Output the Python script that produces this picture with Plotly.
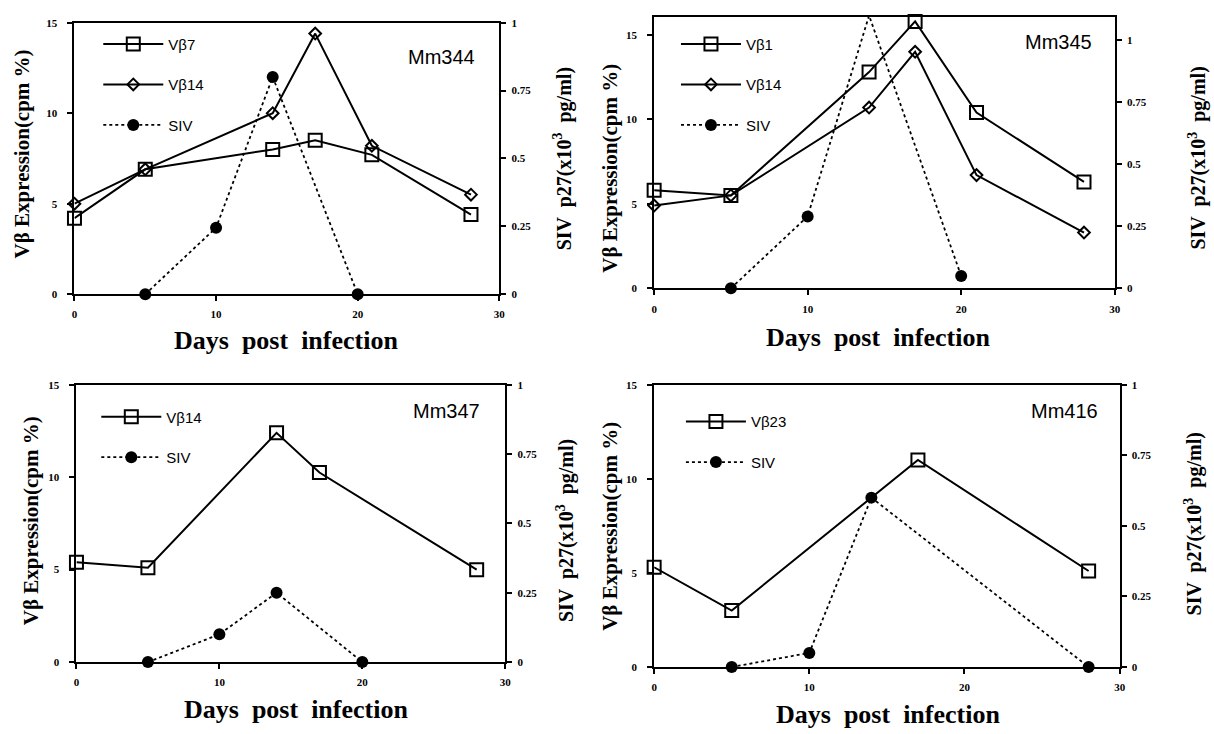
import plotly.graph_objects as go

# ---------------- data ----------------
days_344 = [0, 5, 14, 17, 21, 28]
vb7_344 = [4.2, 6.9, 8.0, 8.5, 7.7, 4.4]
vb14_344 = [5.0, 6.9, 10.0, 14.4, 8.2, 5.5]
siv_days_344 = [5, 10, 14, 20]
siv_344 = [0.0, 0.245, 0.80, 0.0]

days_345 = [0, 5, 14, 17, 21, 28]
vb1_345 = [5.8, 5.5, 12.8, 15.8, 10.4, 6.3]
vb14_345 = [4.9, 5.5, 10.7, 14.0, 6.7, 3.3]
siv_days_345 = [5, 10, 14, 20]
siv_345 = [0.0, 0.29, 1.10, 0.05]

days_347 = [0, 5, 14, 17, 28]
vb14_347 = [5.4, 5.1, 12.4, 10.25, 5.0]
siv_days_347 = [5, 10, 14, 20]
siv_347 = [0.0, 0.10, 0.25, 0.0]

days_416 = [0, 5, 17, 28]
vb23_416 = [5.3, 3.0, 11.0, 5.1]
siv_days_416 = [5, 10, 14, 28]
siv_416 = [0.0, 0.05, 0.60, 0.0]

x_ticks = [0, 10, 20, 30]
left_ticks = [0, 5, 10, 15]
right_ticks = [0, 0.25, 0.5, 0.75, 1]

W, H = 1214, 734
SERIF = "Liberation Serif"
SANS = "Liberation Sans"

def px(x):
    return x / W

def py(y):
    return 1 - y / H

fig = go.Figure()

panels = [
    dict(name="Mm344", xd=[72, 500], yd=[17, 293], yl=[0, 15], yr=[0, 1],
         series=[("Vβ7", days_344, vb7_344, "square-open", 13),
                 ("Vβ14", days_344, vb14_344, "diamond-open", 9)],
         siv=(siv_days_344, siv_344),
         leg=(96, 22), mm=(478, 52),
         lt=(19, 150), rt=(564, 155), xt=(285, 340)),
    dict(name="Mm345", xd=[656, 1120], yd=[11, 287], yl=[0, 16.07], yr=[0, 1.095],
         series=[("Vβ1", days_345, vb1_345, "square-open", 13),
                 ("Vβ14", days_345, vb14_345, "diamond-open", 9)],
         siv=(siv_days_345, siv_345),
         leg=(678, 22), mm=(1099, 37),
         lt=(612, 165), rt=(1203, 155), xt=(882, 337)),
    dict(name="Mm347", xd=[74, 506], yd=[385, 667], yl=[0, 15], yr=[0, 1],
         series=[("Vβ14", days_347, vb14_347, "square-open", 13)],
         siv=(siv_days_347, siv_347),
         leg=(94, 401), mm=(483, 412),
         lt=(29, 523), rt=(566, 533), xt=(295, 715)),
    dict(name="Mm416", xd=[656, 1125], yd=[385, 672], yl=[0, 15], yr=[0, 1],
         series=[("Vβ23", days_416, vb23_416, "square-open", 13)],
         siv=(siv_days_416, siv_416),
         leg=(683, 406), mm=(1105, 412),
         lt=(612, 529), rt=(1199, 527), xt=(892, 720)),
]

axis_common = dict(showline=True, linecolor="black", linewidth=2, ticks="outside",
                   tickcolor="black", tickwidth=1.5, ticklen=5, showgrid=False,
                   zeroline=False,
                   tickfont=dict(family=SERIF, size=11, color="black", weight="bold"))

annotations = []
layout_axes = {}
for i, p in enumerate(panels):
    xi = i + 1
    yl_i = 2 * i + 1
    yr_i = 2 * i + 2
    xname = "xaxis" if xi == 1 else f"xaxis{xi}"
    yl_name = "yaxis" if yl_i == 1 else f"yaxis{yl_i}"
    yr_name = f"yaxis{yr_i}"
    xref = "x" if xi == 1 else f"x{xi}"
    yl_ref = "y" if yl_i == 1 else f"y{yl_i}"
    yr_ref = f"y{yr_i}"
    leg_name = "legend" if i == 0 else f"legend{i + 1}"

    layout_axes[xname] = dict(axis_common, domain=[px(p["xd"][0]), px(p["xd"][1])],
                              range=[0, 30], tickvals=x_ticks, mirror=True,
                              anchor=yl_ref, ticklabelstandoff=4)
    layout_axes[yl_name] = dict(axis_common, domain=[py(p["yd"][1]), py(p["yd"][0])],
                                range=p["yl"], tickvals=left_ticks, anchor=xref,
                                ticklabelstandoff=8)
    layout_axes[yr_name] = dict(axis_common, domain=[py(p["yd"][1]), py(p["yd"][0])],
                                range=p["yr"], tickvals=right_ticks, overlaying=yl_ref,
                                side="right", anchor=xref, ticklabelstandoff=3)

    for k, (label, d, v, sym, size) in enumerate(p["series"]):
        fig.add_trace(go.Scatter(
            x=d, y=v, xaxis=xref, yaxis=yl_ref, name=label, mode="lines+markers",
            line=dict(color="black", width=2),
            marker=dict(symbol=sym, size=size, color="black", line=dict(width=2, color="black")),
            cliponaxis=False, legend=leg_name, legendgroup=f"{p['name']}_{k}"))
    sd, sv = p["siv"]
    fig.add_trace(go.Scatter(
        x=sd, y=sv, xaxis=xref, yaxis=yr_ref, name="SIV", mode="lines+markers",
        line=dict(color="black", width=1.8, dash="dot"),
        marker=dict(symbol="circle", size=12, color="black"),
        cliponaxis=False, legend=leg_name, legendgroup=f"{p['name']}_siv"))

    layout_axes[leg_name] = dict(x=px(p["leg"][0]), y=py(p["leg"][1]), xanchor="left",
                                 yanchor="top", bgcolor="rgba(0,0,0,0)",
                                 font=dict(family=SANS, size=15, color="black"),
                                 itemwidth=60, tracegroupgap=18, traceorder="grouped")

    annotations.append(dict(text=p["name"], x=px(p["mm"][0]), y=py(p["mm"][1]),
                            xref="paper", yref="paper", xanchor="right", yanchor="middle",
                            showarrow=False, font=dict(family=SANS, size=20, color="black")))
    annotations.append(dict(text="Vβ Expression(cpm %)", x=px(p["lt"][0]), y=py(p["lt"][1]),
                            xref="paper", yref="paper", xanchor="center", yanchor="middle",
                            textangle=-90, showarrow=False,
                            font=dict(family=SERIF, size=21, color="black", weight="bold")))
    annotations.append(dict(text="SIV  p27(x10<sup>3</sup>  pg/ml)", x=px(p["rt"][0]),
                            y=py(p["rt"][1]), xref="paper", yref="paper", xanchor="center",
                            yanchor="middle", textangle=-90, showarrow=False,
                            font=dict(family=SERIF, size=20, color="black", weight="bold")))
    annotations.append(dict(text="Days  post  infection", x=px(p["xt"][0]), y=py(p["xt"][1]),
                            xref="paper", yref="paper", xanchor="center", yanchor="middle",
                            showarrow=False,
                            font=dict(family=SERIF, size=26, color="black", weight="bold")))

fig.update_layout(width=W, height=H, margin=dict(l=0, r=0, t=0, b=0),
                  paper_bgcolor="white", plot_bgcolor="white", showlegend=True,
                  annotations=annotations, **layout_axes)

fig.write_html("out.html")
